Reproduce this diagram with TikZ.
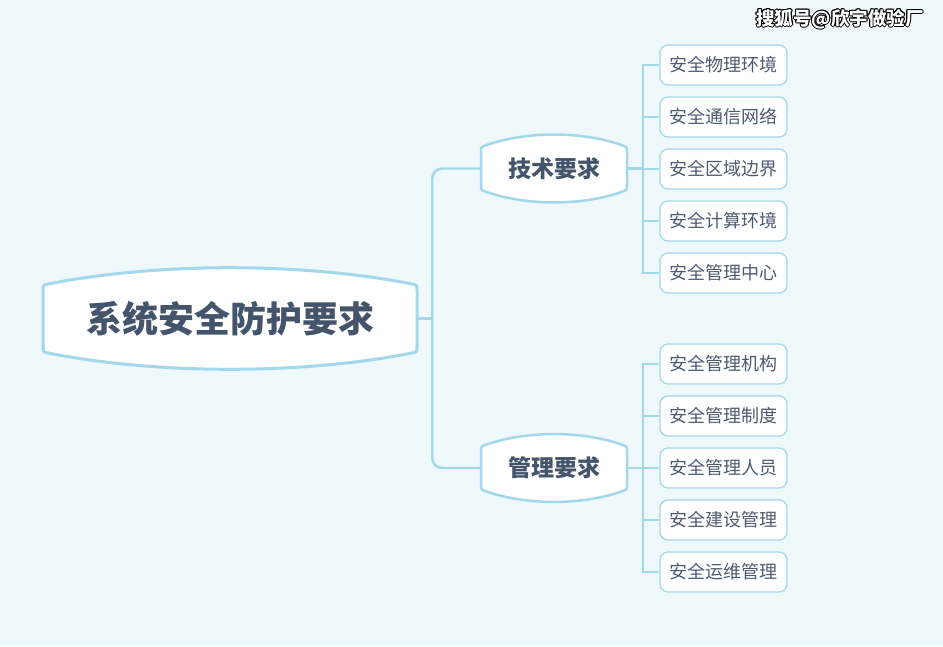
\documentclass[tikz,border=0pt]{standalone}
\usepackage{fontspec}
\setmainfont{Noto Sans CJK SC}
\usetikzlibrary{calc}
\definecolor{bg}{HTML}{EFF8FB}
\definecolor{ln}{HTML}{A3D8EC}
\definecolor{tx}{HTML}{44546A}
\definecolor{lt}{HTML}{4D5B70}
\pgfdeclarelayer{back}\pgfdeclarelayer{mid}\pgfsetlayers{back,mid,main}
\tikzset{
  conn/.style={draw=ln, line width=2.4pt},
  leafbox/.style={draw=ln, line width=1.3pt, fill=white, rounded corners=8pt,
    minimum width=127pt, minimum height=40pt, inner sep=0pt, text=lt,
    font=\fontsize{18}{20}\selectfont},
  wm/.style={font=\fontsize{18.5}{20}\selectfont\bfseries, inner sep=0pt},
}
% #1 name, #2 cx, #3 cy, #4 w, #5 h, #6 bulge, #7 line width, #8 corner r, #9 font+text
\newcommand\bulgebox[9]{%
  \pgfmathsetmacro\xa{#2-#4/2}\pgfmathsetmacro\xb{#2+#4/2}%
  \pgfmathsetmacro\ya{#3-#5/2}\pgfmathsetmacro\yb{#3+#5/2}%
  \pgfmathsetmacro\cu{\ya-#6*4/3}\pgfmathsetmacro\cd{\yb+#6*4/3}%
  \pgfmathsetmacro\qa{#2-#4*0.19}\pgfmathsetmacro\qb{#2+#4*0.19}%
  \pgfmathsetmacro\kk{(#6*4/3)/(#4*0.31)*#8}%
  \pgfmathsetmacro\xar{\xa+#8}\pgfmathsetmacro\xbr{\xb-#8}%
  \pgfmathsetmacro\yar{\ya+#8}\pgfmathsetmacro\ybr{\yb-#8}%
  \pgfmathsetmacro\yak{\ya-\kk}\pgfmathsetmacro\ybk{\yb+\kk}%
  \draw[draw=ln, line width=#7, fill=white, line join=round]
    (\xa,\yar) .. controls (\xa,\ya) .. (\xar,\yak)
    .. controls (\qa,\cu) and (\qb,\cu) .. (\xbr,\yak)
    .. controls (\xb,\ya) .. (\xb,\yar)
    -- (\xb,\ybr) .. controls (\xb,\yb) .. (\xbr,\ybk)
    .. controls (\qb,\cd) and (\qa,\cd) .. (\xar,\ybk)
    .. controls (\xa,\yb) .. (\xa,\ybr) -- cycle;
  \node[minimum width=#4pt, minimum height=#5pt, inner sep=0pt, text=tx] (#1) at (#2,#3) {#9};
}
\begin{document}
\begin{tikzpicture}[x=1pt,y=-1pt]
\begin{pgfonlayer}{back}
\useasboundingbox[fill=bg] (0,0) rectangle (943,646);
\end{pgfonlayer}
% boxes
\bulgebox{root}{230}{318.5}{374}{67}{17}{3pt}{6}{\fontsize{36}{40}\selectfont\bfseries 系统安全防护要求}
\bulgebox{tech}{554}{168.5}{146}{43}{12}{2.5pt}{5}{\fontsize{23}{26}\selectfont\bfseries 技术要求}
\bulgebox{mgmt}{554}{468}{146}{43}{12}{2.5pt}{5}{\fontsize{23}{26}\selectfont\bfseries 管理要求}
% leaves
\foreach \n/\y/\t in {a1/65/安全物理环境, a2/117/安全通信网络, a3/169/安全区域边界, a4/221/安全计算环境, a5/273/安全管理中心,
  b1/364/安全管理机构, b2/416/安全管理制度, b3/468/安全管理人员, b4/520/安全建设管理, b5/572/安全运维管理}
  {\node[leafbox] (\n) at (723.5,\y) {\t};}
% junctions
\coordinate (j1) at ($(root.east)+(15,0)$);
\coordinate (j2) at ($(tech.east)+(16,0)$);
\coordinate (j3) at ($(mgmt.east)+(16,0)$);
% connectors
\begin{pgfonlayer}{mid}
\draw[conn, rounded corners=10pt] (tech.west) -| (j1) |- (mgmt.west);
\draw[conn] (root.east) -- (j1);
\foreach \n in {a1,a2,a3,a4,a5} {\draw[conn] (j2) |- (\n.west);}
\foreach \n in {b1,b2,b3,b4,b5} {\draw[conn] (j3) |- (\n.west);}
\draw[conn] (tech.east) -- (j2);
\draw[conn] (mgmt.east) -- (j3);
\end{pgfonlayer}
% watermark
\foreach \dx/\dy [count=\i] in {-0.9/0,0.9/0,0/-0.9,0/0.9,-0.7/-0.7,0.7/0.7,-0.7/0.7,0.7/-0.7}
  {\node[wm, text=black] (wmo\i) at (840+\dx,19+\dy) {搜狐号@欣宇做验厂};}
\node[wm, text=white] (wm) at (840,19) {搜狐号@欣宇做验厂};
\end{tikzpicture}
\end{document}
